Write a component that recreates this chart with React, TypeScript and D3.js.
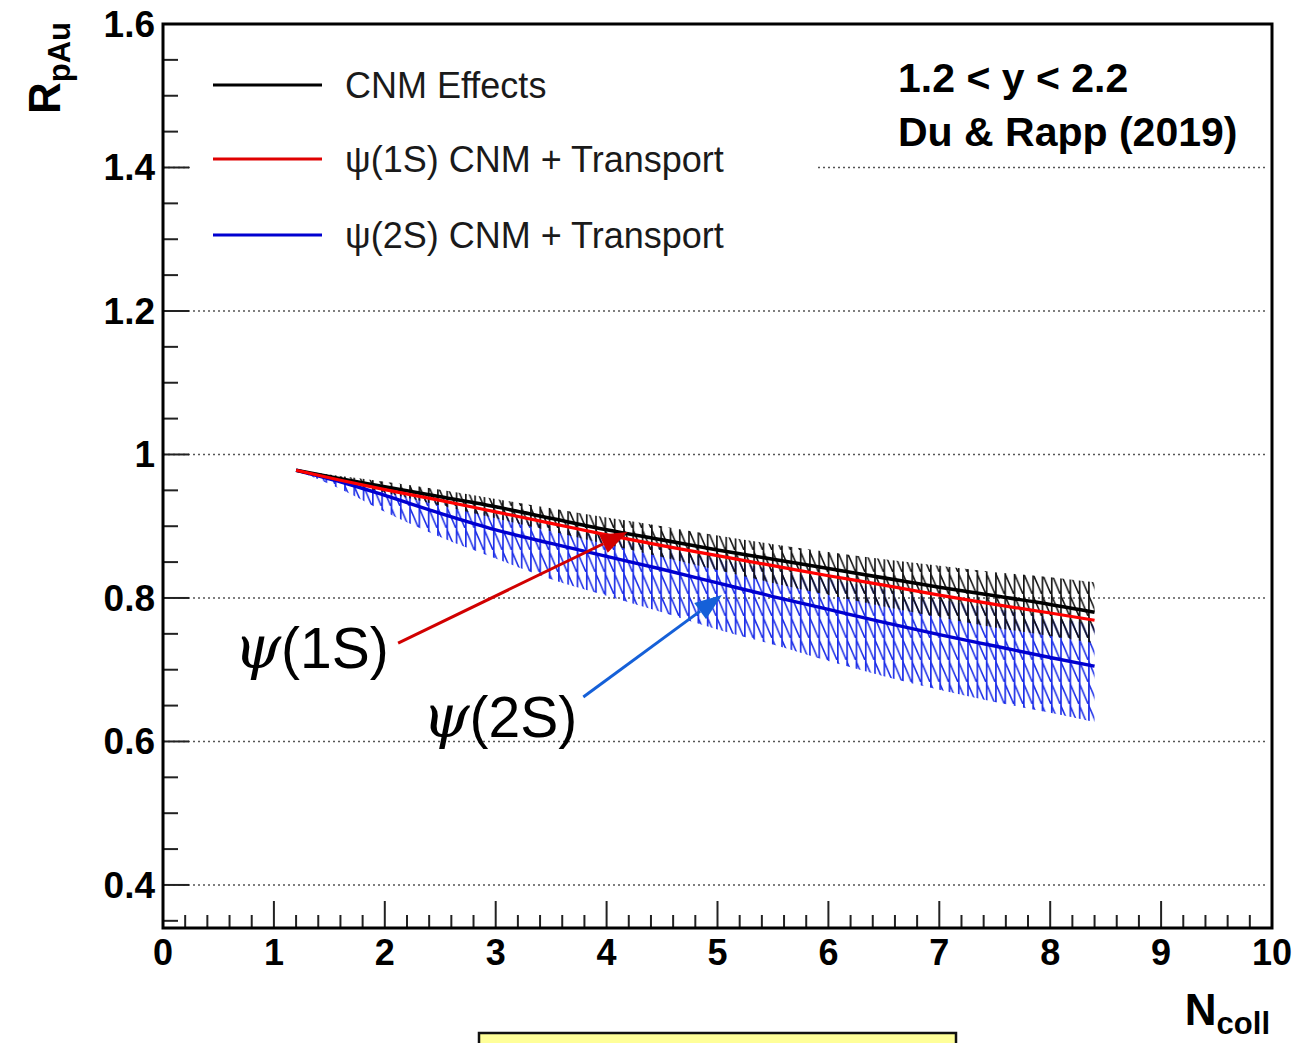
import React from "react";
import * as d3 from "d3";

// Binary collision number grid at which the model curves are evaluated
const NCOLL = [1.2, 1.6, 2.0, 2.5, 3.0, 3.5, 4.0, 4.5, 5.0, 5.5, 6.0, 6.5, 7.0, 7.5, 8.0, 8.4];

// Cold-nuclear-matter effects: central value and uncertainty band
const CNM = [0.978, 0.966, 0.955, 0.941, 0.927, 0.911, 0.895, 0.881, 0.867, 0.854, 0.841, 0.828, 0.815, 0.803, 0.791, 0.780];
const CNM_HI = [0.978, 0.970, 0.962, 0.951, 0.938, 0.925, 0.912, 0.900, 0.887, 0.875, 0.864, 0.854, 0.845, 0.836, 0.829, 0.822];
const CNM_LO = [0.978, 0.962, 0.947, 0.929, 0.911, 0.893, 0.875, 0.857, 0.839, 0.821, 0.804, 0.788, 0.773, 0.759, 0.747, 0.737];

// psi(1S): CNM + transport (central)
const PSI1S = [0.978, 0.964, 0.951, 0.936, 0.920, 0.904, 0.888, 0.873, 0.859, 0.845, 0.831, 0.818, 0.804, 0.791, 0.779, 0.769];

// psi(2S): CNM + transport, central value and band
const PSI2S = [0.978, 0.962, 0.943, 0.918, 0.895, 0.876, 0.858, 0.840, 0.821, 0.802, 0.784, 0.766, 0.749, 0.733, 0.717, 0.705];
const PSI2S_HI = [0.978, 0.963, 0.949, 0.933, 0.916, 0.900, 0.884, 0.869, 0.854, 0.840, 0.826, 0.812, 0.798, 0.785, 0.773, 0.763];
const PSI2S_LO = [0.978, 0.952, 0.920, 0.885, 0.855, 0.826, 0.803, 0.780, 0.756, 0.735, 0.712, 0.691, 0.672, 0.655, 0.640, 0.627];

const X_TICKS = [0, 1, 2, 3, 4, 5, 6, 7, 8, 9, 10];
const Y_TICKS = [0.4, 0.6, 0.8, 1.0, 1.2, 1.4, 1.6];

const LEGEND = [
  { label: "CNM Effects", color: "#000000" },
  { label: "ψ(1S) CNM + Transport", color: "#e00000" },
  { label: "ψ(2S) CNM + Transport", color: "#0000d0" },
];

// Arrow annotations in data coordinates: [tailX, tailY, tipX, tipY]
const ARROW_1S = [2.12, 0.737, 4.19, 0.892];
const ARROW_2S = [3.79, 0.662, 5.04, 0.804];
// Label anchors (left edge, baseline) in data coordinates
const LABEL_1S = [0.64, 0.702];
const LABEL_2S = [2.34, 0.606];

const W = 1308;
const H = 1043;
const L = 163, R = 1272, T = 24, B = 928;

const SANS = "'Liberation Sans', Arial, Helvetica, sans-serif";
const SERIF = "'DejaVu Serif', 'Liberation Serif', serif";

export default function App() {
  const x = d3.scaleLinear().domain([0, 10]).range([L, R]);
  const y = d3.scaleLinear().domain([0.34, 1.6]).range([B, T]);

  const pts = (vals: number[]) => NCOLL.map((n, i) => [n, vals[i]] as [number, number]);
  const line = d3
    .line<[number, number]>()
    .x((d) => x(d[0]))
    .y((d) => y(d[1]))
    .curve(d3.curveMonotoneX);
  const band = (lo: number[], hi: number[]) =>
    d3
      .area<number>()
      .x((n) => x(n))
      .y0((_, i) => y(lo[i]))
      .y1((_, i) => y(hi[i]))
      .curve(d3.curveMonotoneX)(NCOLL) as string;

  const xMinor = d3.range(0, 10.001, 0.2).filter((v) => Math.abs(v - Math.round(v)) > 1e-6);
  const yMinor = d3.range(0.35, 1.6001, 0.05).filter(
    (v) => !Y_TICKS.some((t) => Math.abs(t - v) < 1e-6)
  );
  const fmtY = d3.format("~g");

  const arrow = (a: number[], color: string) => {
    const x0 = x(a[0]), y0 = y(a[1]), x1 = x(a[2]), y1 = y(a[3]);
    const ang = Math.atan2(y1 - y0, x1 - x0);
    const len = 27, hw = 10;
    const bx = x1 - len * Math.cos(ang), by = y1 - len * Math.sin(ang);
    const px = -Math.sin(ang) * hw, py = Math.cos(ang) * hw;
    return (
      <g>
        <line x1={x0} y1={y0} x2={bx} y2={by} stroke={color} strokeWidth={3} />
        <polygon
          points={`${x1},${y1} ${bx + px},${by + py} ${bx - px},${by - py}`}
          fill={color}
        />
      </g>
    );
  };

  const hatch = (id: string, color: string) => (
    <pattern id={id} patternUnits="userSpaceOnUse" width={9.3} height={22}>
      <line x1={0.8} y1={0} x2={0.8} y2={22} stroke={color} strokeWidth={1.7} />
      <line x1={0} y1={0} x2={9.3} y2={22} stroke={color} strokeWidth={1.5} />
    </pattern>
  );

  return (
    <svg
      width={W}
      height={H}
      viewBox={`0 0 ${W} ${H}`}
      style={{ position: "absolute", left: 0, top: 0, background: "#fff" }}
    >
      <defs>
        {hatch("hatchBlue", "#1a2ce8")}
        {hatch("hatchBlack", "#111")}
      </defs>

      <rect x={0} y={0} width={W} height={H} fill="#fff" />

      {/* dotted grid */}
      {Y_TICKS.filter((t) => t < 1.6).map((t) => (
        <line
          key={"g" + t}
          x1={L}
          x2={R - 4}
          y1={y(t)}
          y2={y(t)}
          stroke="#555"
          strokeWidth={1.5}
          strokeDasharray="2,3"
        />
      ))}

      {/* legend box (opaque, no border) */}
      <rect x={190} y={45} width={628} height={228} fill="#fff" />
      {LEGEND.map((d, i) => {
        const ly = [85, 159, 235][i];
        return (
          <g key={d.label}>
            <line x1={213} x2={322} y1={ly} y2={ly} stroke={d.color} strokeWidth={3} />
            <text x={345} y={ly + 13} fontFamily={SANS} fontSize={36} fill="#1a1a1a">
              {d.label}
            </text>
          </g>
        );
      })}

      {/* uncertainty bands */}
      <path d={band(PSI2S_LO, PSI2S_HI)} fill="url(#hatchBlue)" />
      <path d={band(CNM_LO, CNM_HI)} fill="url(#hatchBlack)" />

      {/* central curves */}
      <path d={line(pts(PSI2S)) as string} fill="none" stroke="#0000d0" strokeWidth={3.4} />
      <path d={line(pts(CNM)) as string} fill="none" stroke="#000" strokeWidth={3.6} />
      <path d={line(pts(PSI1S)) as string} fill="none" stroke="#ff0000" strokeWidth={3.2} />

      {/* annotations */}
      {arrow(ARROW_1S, "#d10000")}
      {arrow(ARROW_2S, "#1560d8")}
      <text x={x(LABEL_1S[0])} y={y(LABEL_1S[1])} fontSize={57} fill="#000">
        <tspan fontFamily={SERIF} fontStyle="italic" fontSize={60}>ψ</tspan>
        <tspan fontFamily={SANS}>(1S)</tspan>
      </text>
      <text x={x(LABEL_2S[0])} y={y(LABEL_2S[1])} fontSize={57} fill="#000">
        <tspan fontFamily={SERIF} fontStyle="italic" fontSize={60}>ψ</tspan>
        <tspan fontFamily={SANS}>(2S)</tspan>
      </text>

      {/* kinematic and model labels */}
      <text x={898} y={92} fontFamily={SANS} fontWeight="bold" fontSize={41} fill="#000">
        1.2 &lt; y &lt; 2.2
      </text>
      <text x={898} y={146} fontFamily={SANS} fontWeight="bold" fontSize={41} fill="#000">
        Du &amp; Rapp (2019)
      </text>

      {/* ticks */}
      {X_TICKS.map((t) => (
        <line key={"xt" + t} x1={x(t)} x2={x(t)} y1={B} y2={B - 27} stroke="#222" strokeWidth={2} />
      ))}
      {xMinor.map((t) => (
        <line key={"xm" + t} x1={x(t)} x2={x(t)} y1={B} y2={B - 13} stroke="#222" strokeWidth={2} />
      ))}
      {Y_TICKS.map((t) => (
        <line key={"yt" + t} x1={L} x2={L + 26} y1={y(t)} y2={y(t)} stroke="#222" strokeWidth={2} />
      ))}
      {yMinor.map((t) => (
        <line key={"ym" + t} x1={L} x2={L + 15} y1={y(t)} y2={y(t)} stroke="#222" strokeWidth={2} />
      ))}

      {/* frame */}
      <rect x={L} y={T} width={R - L} height={B - T} fill="none" stroke="#000" strokeWidth={3} />

      {/* tick labels */}
      {X_TICKS.map((t) => (
        <text
          key={"xl" + t}
          x={x(t)}
          y={965}
          textAnchor="middle"
          fontFamily={SANS}
          fontWeight="bold"
          fontSize={36}
          fill="#000"
        >
          {t}
        </text>
      ))}
      {Y_TICKS.map((t) => (
        <text
          key={"yl" + t}
          x={155}
          y={y(t) + 13}
          textAnchor="end"
          fontFamily={SANS}
          fontWeight="bold"
          fontSize={37}
          fill="#000"
        >
          {fmtY(t)}
        </text>
      ))}

      {/* axis titles */}
      <text
        transform="translate(60,22) rotate(-90)"
        textAnchor="end"
        fontFamily={SANS}
        fontWeight="bold"
        fill="#000"
      >
        <tspan fontSize={44}>R</tspan>
        <tspan fontSize={31} dy={10}>pAu</tspan>
      </text>
      <text x={1270} y={1025} textAnchor="end" fontFamily={SANS} fontWeight="bold" fill="#000">
        <tspan fontSize={44}>N</tspan>
        <tspan fontSize={31} dy={9}>coll</tspan>
      </text>

      {/* highlight box at the bottom */}
      <rect x={479} y={1033} width={477} height={30} fill="#ffff99" stroke="#111" strokeWidth={2.5} />
    </svg>
  );
}
